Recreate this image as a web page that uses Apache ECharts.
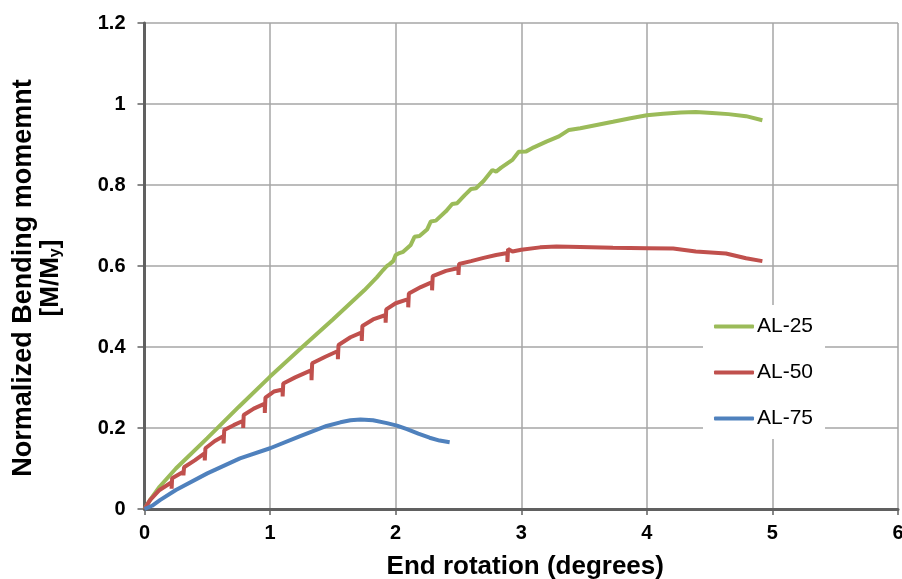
<!DOCTYPE html>
<html><head><meta charset="utf-8">
<script src="https://cdn.jsdelivr.net/npm/echarts@6/dist/echarts.min.js"></script>
<style>html,body{margin:0;padding:0;background:#fff}#c{width:902px;height:579px}</style>
</head><body><div id="c"></div>
<script>
const xTicks = [0,1,2,3,4,5,6];
const yTicks = [0,0.2,0.4,0.6,0.8,1,1.2];
const seriesNames = ['AL-25','AL-50','AL-75'];
const xTitle = 'End rotation (degrees)';
const yTitle = 'Normalized Bending momemnt';
const al25 = [[0,0],[0.05,0.025],[0.12,0.055],[0.25,0.1],[0.5,0.175],[0.75,0.252],[1.0,0.327],[1.25,0.398],[1.5,0.468],[1.75,0.54],[1.85,0.572],[1.9,0.59],[1.93,0.60],[1.95,0.604],[1.98,0.612],[2.0,0.627],[2.03,0.632],[2.06,0.635],[2.12,0.652],[2.15,0.672],[2.19,0.674],[2.25,0.69],[2.28,0.71],[2.32,0.712],[2.4,0.735],[2.45,0.753],[2.49,0.755],[2.55,0.775],[2.6,0.79],[2.64,0.792],[2.7,0.81],[2.77,0.837],[2.8,0.833],[2.84,0.843],[2.93,0.862],[2.98,0.882],[3.04,0.883],[3.1,0.893],[3.2,0.907],[3.3,0.92],[3.38,0.936],[3.47,0.94],[3.6,0.948],[3.73,0.956],[3.87,0.965],[4.0,0.972],[4.13,0.976],[4.27,0.979],[4.39,0.98],[4.52,0.978],[4.65,0.975],[4.79,0.97],[4.92,0.96]];
const al50 = [[0,0],[0.044,0.022],[0.12,0.047],[0.216,0.066],[0.216,0.05],[0.22,0.076],[0.31,0.092],[0.31,0.083],[0.315,0.103],[0.40,0.12],[0.48,0.138],[0.48,0.12],[0.485,0.15],[0.56,0.168],[0.63,0.18],[0.63,0.162],[0.635,0.195],[0.71,0.207],[0.786,0.218],[0.786,0.2],[0.79,0.232],[0.87,0.248],[0.958,0.26],[0.958,0.237],[0.963,0.275],[1.03,0.29],[1.10,0.295],[1.10,0.278],[1.105,0.31],[1.2,0.325],[1.33,0.343],[1.33,0.318],[1.335,0.36],[1.44,0.376],[1.54,0.39],[1.54,0.37],[1.545,0.405],[1.64,0.424],[1.73,0.436],[1.73,0.415],[1.735,0.452],[1.82,0.468],[1.92,0.479],[1.92,0.46],[1.925,0.493],[2.0,0.508],[2.10,0.518],[2.10,0.498],[2.105,0.532],[2.2,0.548],[2.29,0.56],[2.29,0.54],[2.295,0.575],[2.4,0.588],[2.5,0.595],[2.5,0.578],[2.505,0.605],[2.6,0.612],[2.7,0.62],[2.8,0.627],[2.89,0.632],[2.89,0.61],[2.895,0.642],[2.93,0.636],[3.0,0.64],[3.15,0.646],[3.28,0.648],[3.47,0.647],[3.73,0.645],[4.0,0.644],[4.21,0.643],[4.39,0.636],[4.63,0.631],[4.79,0.619],[4.92,0.612]];
const al75 = [[0,0],[0.06,0.008],[0.123,0.022],[0.25,0.047],[0.5,0.088],[0.76,0.125],[1.0,0.150],[1.24,0.180],[1.45,0.205],[1.56,0.214],[1.64,0.219],[1.72,0.221],[1.82,0.219],[1.93,0.212],[2.01,0.206],[2.09,0.197],[2.18,0.186],[2.27,0.176],[2.35,0.169],[2.43,0.165]];
const colors = ['#9bbb59','#c0504d','#4f81bd'];

const chart = echarts.init(document.getElementById('c'), null, {renderer:'canvas'});
const font = 'Liberation Sans, Arial, sans-serif';
chart.setOption({
  animation:false,
  color: colors,
  grid:{left:144.5, right:4, top:23, bottom:70, containLabel:false, outerBoundsMode:'none'},
  graphic:[
    {type:'text', x:37, y:278, rotation:Math.PI/2, z:10,
     style:{text:yTitle + '\n{b|[M/M}{s|y}{b|]}', fontFamily:font, fontWeight:'bold', fontSize:27, lineHeight:27,
       fill:'#000', align:'center', verticalAlign:'middle',
       rich:{b:{fontFamily:font, fontWeight:'bold', fontSize:26, lineHeight:27, fill:'#000'},
             s:{fontFamily:font, fontWeight:'bold', fontSize:16, lineHeight:27, fill:'#000', verticalAlign:'bottom', padding:[10,0,0,0]}}}}
  ],
  xAxis:{type:'value', min:xTicks[0], max:xTicks[xTicks.length-1], interval:1,
    name:xTitle, nameLocation:'middle', nameGap:45,
    nameTextStyle:{fontFamily:font, fontWeight:'bold', fontSize:26, color:'#000', padding:[0,0,0,8]},
    axisLine:{show:true, onZero:false, lineStyle:{color:'#606060', width:3}},
    axisTick:{show:true, inside:false, length:6, lineStyle:{color:'#606060', width:1.5}},
    axisLabel:{fontFamily:font, fontWeight:'bold', fontSize:20, color:'#000', margin:14},
    splitLine:{show:true, lineStyle:{color:'#a6a6a6', width:1.5}}},
  yAxis:{type:'value', min:yTicks[0], max:yTicks[yTicks.length-1], interval:0.2,
    axisLine:{show:true, lineStyle:{color:'#606060', width:3}},
    axisTick:{show:true, inside:false, length:7, lineStyle:{color:'#606060', width:1.5}},
    axisLabel:{fontFamily:font, fontWeight:'bold', fontSize:20, color:'#000', margin:19,
      formatter:v=>String(Math.round(v*10)/10)},
    splitLine:{show:true, lineStyle:{color:'#a6a6a6', width:1.5}}},
  legend:{show:true, orient:'vertical', left:703, top:305, itemGap:25, itemWidth:40, itemHeight:4,
    icon:'roundRect', backgroundColor:'#fff', padding:[11,12,10,11],
    textStyle:{fontFamily:font, fontSize:21, lineHeight:21, color:'#000', padding:[0,0,0,-2]},
    data:seriesNames},
  series:[
    {name:seriesNames[0], type:'line', data:al25, showSymbol:false, symbol:'none', lineStyle:{width:4, color:colors[0]}, z:3},
    {name:seriesNames[1], type:'line', data:al50, showSymbol:false, symbol:'none', lineStyle:{width:4, color:colors[1]}, z:3},
    {name:seriesNames[2], type:'line', data:al75, showSymbol:false, symbol:'none', lineStyle:{width:4, color:colors[2]}, z:3}
  ]
});
</script></body></html>
